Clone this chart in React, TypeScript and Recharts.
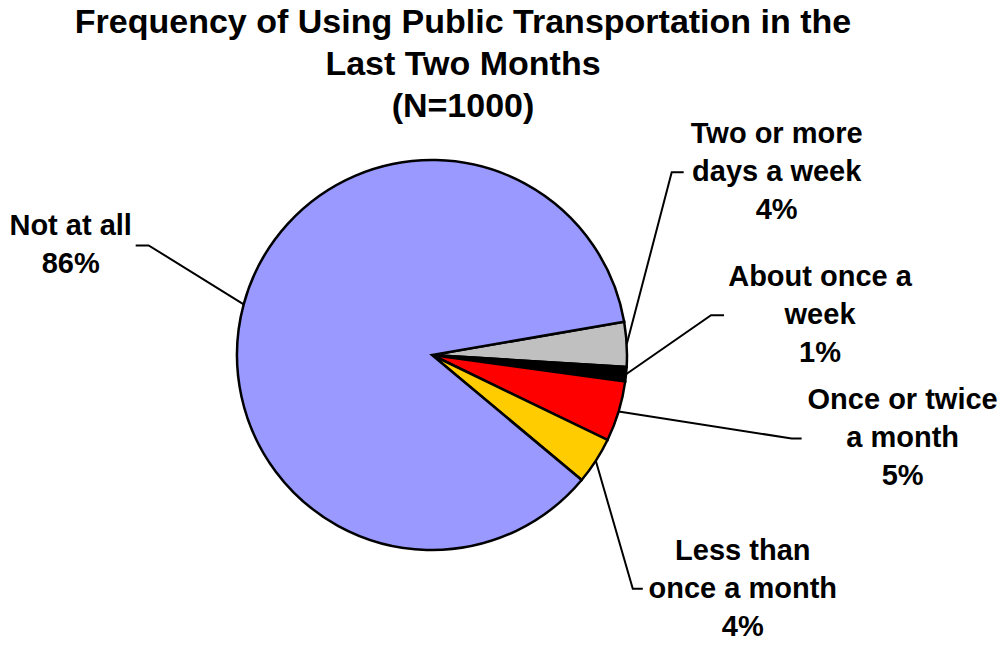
import React from 'react';
import { PieChart, Pie, Cell } from 'recharts';

// slice order runs clockwise from the top of the grey slice
const categories = [
  'Two or more days a week',
  'About once a week',
  'Once or twice a month',
  'Less than once a month',
  'Not at all',
];
const shares = [3.7, 1.2, 5.0, 3.9, 86.2];
const labelLines = [
  ['Two or more', 'days a week'],
  ['About once a', 'week'],
  ['Once or twice', 'a month'],
  ['Less than', 'once a month'],
  ['Not at all'],
];
const colors = ['#C0C0C0', '#000000', '#FF0000', '#FFCC00', '#9999FF'];
const titleLines = ['Frequency of Using Public Transportation in the', 'Last Two Months', '(N=1000)'];

// leader line geometry: elbow offset from the slice edge, tail length, text offset from tail end
const leaders = [
  { ex: 45, ey: -172, tail: 12, tx: 93, ty: -29 },
  { ex: 85, ey: -59, tail: 13, tx: 96, ty: -29 },
  { ex: 173, ey: 27, tail: 10, tx: 101, ty: -29 },
  { ex: 37, ey: 128, tail: 10, tx: 100, ty: -29 },
  { ex: -95, ey: -59, tail: -13, tx: -65, ty: -10 },
];

const data = categories.map((name, i) => ({ name, value: shares[i] }));

const FONT = 'Arial, "Liberation Sans", sans-serif';
const RAD = Math.PI / 180;

const renderLabel = (props: any) => {
  const { cx, cy, midAngle, outerRadius, index, value } = props;
  const l = leaders[index];
  const x0 = cx + outerRadius * Math.cos(-midAngle * RAD);
  const y0 = cy + outerRadius * Math.sin(-midAngle * RAD);
  const x1 = x0 + l.ex;
  const y1 = y0 + l.ey;
  const x2 = x1 + l.tail;
  const lines = [...labelLines[index], `${Math.round(value)}%`];
  return (
    <g key={`lbl-${index}`}>
      <polyline points={`${x0},${y0} ${x1},${y1} ${x2},${y1}`} fill="none" stroke="#000" strokeWidth={2} />
      <text x={x2 + l.tx} y={y1 + l.ty} textAnchor="middle" fontFamily={FONT} fontWeight="bold" fontSize={29} fill="#000">
        {lines.map((t, k) => (
          <tspan key={k} x={x2 + l.tx} dy={k === 0 ? 0 : 38}>{t}</tspan>
        ))}
      </text>
    </g>
  );
};

export default function App() {
  return (
    <div style={{ position: 'absolute', left: 0, top: 0, width: 1005, height: 646, background: '#fff' }}>
      <svg width={1005} height={130} style={{ position: 'absolute', left: 0, top: 0 }}>
        {titleLines.map((t, i) => (
          <text key={i} x={463} y={33 + i * 42} textAnchor="middle" fontFamily={FONT} fontWeight="bold" fontSize={34} fill="#000">
            {t}
          </text>
        ))}
      </svg>
      <PieChart
        width={1005}
        height={646}
        margin={{ top: 0, right: 0, bottom: 0, left: 0 }}
        style={{ position: 'absolute', left: 0, top: 0 }}
      >
        <Pie
          data={data}
          dataKey="value"
          nameKey="name"
          cx={432}
          cy={355}
          outerRadius={195}
          startAngle={9.8}
          endAngle={-350.2}
          stroke="#000"
          strokeWidth={2.5}
          label={renderLabel}
          labelLine={false}
          isAnimationActive={false}
        >
          {data.map((d, i) => (
            <Cell key={d.name} fill={colors[i]} stroke="#000" strokeWidth={2.5} />
          ))}
        </Pie>
      </PieChart>
    </div>
  );
}
